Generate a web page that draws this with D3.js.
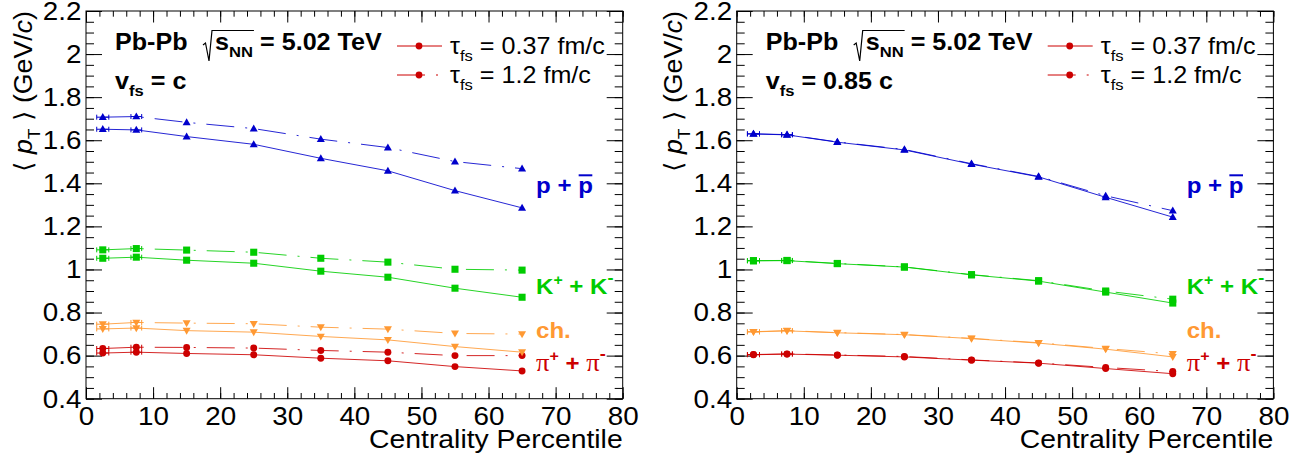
<!DOCTYPE html>
<html><head><meta charset="utf-8">
<script src="https://cdn.jsdelivr.net/npm/d3@7"></script>
<style>body{margin:0;background:#fff} svg{display:block} text{white-space:pre}</style>
</head><body><svg id="c" width="1312" height="461"></svg>
<script>
// ---------------- data ----------------
const centrality = [2.5, 7.5, 15, 25, 35, 45, 55, 65];
const centralityErr = [0.9, 0.8, 0, 0, 0, 0, 0, 0];

// panel 1: v_fs = c
const pion_c_tau037    = [0.612, 0.616, 0.610, 0.604, 0.588, 0.576, 0.549, 0.529];
const pion_c_tau12     = [0.633, 0.639, 0.638, 0.635, 0.624, 0.616, 0.600, 0.600];
const charged_c_tau037 = [0.724, 0.728, 0.716, 0.709, 0.689, 0.673, 0.642, 0.616];
const charged_c_tau12  = [0.746, 0.754, 0.751, 0.748, 0.732, 0.723, 0.703, 0.700];
const kaon_c_tau037    = [1.052, 1.057, 1.043, 1.029, 0.992, 0.964, 0.913, 0.871];
const kaon_c_tau12     = [1.091, 1.097, 1.090, 1.080, 1.052, 1.034, 1.001, 0.997];
const proton_c_tau037  = [1.651, 1.648, 1.617, 1.581, 1.516, 1.458, 1.366, 1.286];
const proton_c_tau12   = [1.707, 1.710, 1.683, 1.654, 1.605, 1.566, 1.501, 1.468];

// panel 2: v_fs = 0.85 c
const pion_085_tau037    = [0.604, 0.607, 0.602, 0.594, 0.579, 0.565, 0.540, 0.516];
const pion_085_tau12     = [0.605, 0.608, 0.603, 0.596, 0.580, 0.566, 0.545, 0.526];
const charged_085_tau037 = [0.710, 0.715, 0.706, 0.697, 0.679, 0.658, 0.630, 0.594];
const charged_085_tau12  = [0.711, 0.716, 0.707, 0.698, 0.680, 0.660, 0.633, 0.608];
const kaon_085_tau037    = [1.040, 1.041, 1.027, 1.011, 0.975, 0.946, 0.895, 0.844];
const kaon_085_tau12     = [1.041, 1.042, 1.028, 1.012, 0.976, 0.948, 0.900, 0.862];
const proton_085_tau037  = [1.629, 1.625, 1.591, 1.555, 1.489, 1.430, 1.335, 1.243];
const proton_085_tau12   = [1.630, 1.626, 1.592, 1.557, 1.491, 1.432, 1.342, 1.273];

const xTicks = [0, 10, 20, 30, 40, 50, 60, 70, 80];
const xTickLabels = ["0", "10", "20", "30", "40", "50", "60", "70", "80"];
const yTicks = [0.4, 0.6, 0.8, 1.0, 1.2, 1.4, 1.6, 1.8, 2.0, 2.2];
const yTickLabels = ["0.4", "0.6", "0.8", "1", "1.2", "1.4", "1.6", "1.8", "2", "2.2"];
const tauLabels = ["0.37 fm/c", "1.2 fm/c"];
const vfsLabels = ["c", "0.85 c"];
const xTitle = "Centrality Percentile";

// ---------------- styles / layout ----------------
const SX = 1.07;
const FONT = "'Liberation Sans', Arial, Helvetica, sans-serif";
const BLUE = "#0000cc", GREEN = "#00cc00", ORANGE = "#ff9933", RED = "#cc0000";
const DASHDOT = "28,11,2,11";
const TOP = 11, BOTTOM = 398.7, PW = 536.7;
const panelLefts = [86, 736.7];

const svg = d3.select("#c");

function rich(sel, x, y, parts, o) {
  const g = sel.append("g").attr("transform", `translate(${x},${y})${o.rotate ? " rotate(" + o.rotate + ")" : ""} scale(${o.sx || SX},1)`);
  const t = g.append("text")
    .attr("font-family", o.family || FONT).attr("font-size", o.size)
    .attr("font-weight", o.weight || "normal").attr("fill", o.fill || "#000")
    .attr("text-anchor", o.anchor || "start");
  let cur = 0;
  parts.forEach(p => {
    if (typeof p === "string") p = { t: p };
    const fs = p.size || ((p.sub || p.sup) ? o.size * 0.66 : o.size);
    const off = p.sub ? o.size * (p.subOff || 0.3) : p.sup ? -o.size * (p.supOff || 0.42) : 0;
    const ts = t.append("tspan").text(p.t).attr("font-size", fs).attr("dy", off - cur);
    if (p.dx) ts.attr("dx", p.dx);
    if (p.italic) ts.attr("font-style", "italic");
    if (p.weight) ts.attr("font-weight", p.weight);
    if (p.family) ts.attr("font-family", p.family);
    if (p.fill) ts.attr("fill", p.fill);
    cur = off;
  });
  return { g, t };
}

const species = [
  { key: "pion", color: RED, sym: d3.symbolCircle, size: 38, rot: 0 },
  { key: "charged", color: ORANGE, sym: d3.symbolTriangle, size: 28, rot: 180 },
  { key: "kaon", color: GREEN, sym: d3.symbolSquare, size: 50, rot: 0 },
  { key: "proton", color: BLUE, sym: d3.symbolTriangle, size: 28, rot: 0 }
];

const panels = [
  { pion: [pion_c_tau037, pion_c_tau12], charged: [charged_c_tau037, charged_c_tau12],
    kaon: [kaon_c_tau037, kaon_c_tau12], proton: [proton_c_tau037, proton_c_tau12] },
  { pion: [pion_085_tau037, pion_085_tau12], charged: [charged_085_tau037, charged_085_tau12],
    kaon: [kaon_085_tau037, kaon_085_tau12], proton: [proton_085_tau037, proton_085_tau12] }
];

function stretchLabels(axisG) {
  axisG.selectAll(".tick text").each(function () {
    const s = d3.select(this);
    const x = +s.attr("x") || 0, y = +s.attr("y") || 0;
    s.attr("transform", `translate(${x},${y}) scale(${SX},1)`).attr("x", 0).attr("y", 0);
  });
}

panels.forEach((pd, pi) => {
  const L = panelLefts[pi], R = L + PW;
  const x = d3.scaleLinear().domain([0, 80]).range([L, R]);
  const y = d3.scaleLinear().domain([0.4, 2.2]).range([BOTTOM, TOP]);
  const g = svg.append("g");

  // axes
  const minorX = d3.range(0, 80.001, 2), minorY = d3.range(0.4, 2.2001, 0.05);
  const styleAxis = a => { a.select(".domain").remove(); a.selectAll("line").attr("stroke", "#000").attr("stroke-width", 1); };
  const ax = g.append("g").attr("transform", `translate(0,${BOTTOM})`)
    .call(d3.axisBottom(x).tickValues(xTicks).tickSize(-11.5).tickPadding(8).tickFormat((d, i) => xTickLabels[i]));
  g.append("g").attr("transform", `translate(0,${BOTTOM})`).call(d3.axisBottom(x).tickValues(minorX).tickSize(-5.7).tickFormat("")).call(styleAxis);
  g.append("g").attr("transform", `translate(0,${TOP})`).call(d3.axisTop(x).tickValues(xTicks).tickSize(-11.5).tickFormat("")).call(styleAxis);
  g.append("g").attr("transform", `translate(0,${TOP})`).call(d3.axisTop(x).tickValues(minorX).tickSize(-5.7).tickFormat("")).call(styleAxis);
  const ay = g.append("g").attr("transform", `translate(${L},0)`)
    .call(d3.axisLeft(y).tickValues(yTicks).tickSize(-16).tickPadding(4.5).tickFormat((d, i) => yTickLabels[i]));
  g.append("g").attr("transform", `translate(${L},0)`).call(d3.axisLeft(y).tickValues(minorY).tickSize(-8).tickFormat("")).call(styleAxis);
  g.append("g").attr("transform", `translate(${R},0)`).call(d3.axisRight(y).tickValues(yTicks).tickSize(-16).tickFormat("")).call(styleAxis);
  g.append("g").attr("transform", `translate(${R},0)`).call(d3.axisRight(y).tickValues(minorY).tickSize(-8).tickFormat("")).call(styleAxis);
  [ax, ay].forEach(a => {
    styleAxis(a);
    a.selectAll("text").attr("font-family", FONT).attr("font-size", 26).attr("fill", "#000");
    stretchLabels(a);
  });
  g.append("rect").attr("x", L).attr("y", TOP).attr("width", PW).attr("height", BOTTOM - TOP)
    .attr("fill", "none").attr("stroke", "#000").attr("stroke-width", 1);

  // data
  const line = d3.line().x(d => x(d[0])).y(d => y(d[1]));
  species.forEach(sp => {
    pd[sp.key].forEach((vals, ti) => {
      const pts = centrality.map((c, i) => [c, vals[i], centralityErr[i]]);
      g.append("path").attr("d", line(pts)).attr("fill", "none").attr("stroke", sp.color)
        .attr("stroke-width", 1).attr("stroke-opacity", 0.85)
        .attr("stroke-dasharray", ti === 1 ? DASHDOT : null);
      pts.filter(p => p[2] > 0).forEach(p => {
        const yy = y(p[1]);
        g.append("line").attr("x1", x(p[0] - p[2])).attr("x2", x(p[0] + p[2])).attr("y1", yy).attr("y2", yy).attr("stroke", sp.color);
        [p[0] - p[2], p[0] + p[2]].forEach(e => g.append("line").attr("x1", x(e)).attr("x2", x(e)).attr("y1", yy - 2.5).attr("y2", yy + 2.5).attr("stroke", sp.color));
      });
      g.selectAll(null).data(pts).enter().append("path")
        .attr("d", d3.symbol().type(sp.sym).size(sp.size))
        .attr("transform", d => `translate(${x(d[0])},${y(d[1]) + (sp.sym === d3.symbolTriangle ? (sp.rot ? -0.5 : 0.5) : 0)}) rotate(${sp.rot})`)
        .attr("fill", sp.color);
    });
  });

  // header: Pb-Pb sqrt(s_NN) = 5.02 TeV
  rich(g, L + 29, 49.5, ["Pb-Pb"], { size: 23.5, weight: "bold" });
  const sq = rich(g, L + 129, 49.5, [{ t: "s" }, { t: "NN", sub: true, subOff: 0.32 }], { size: 23.5, weight: "bold" });
  const sw = sq.t.node().getComputedTextLength() * SX;
  g.append("path").attr("d", `M${L + 117},${45} L${L + 119.5},${43} L${L + 123},${61} L${L + 126},${30.5} L${L + 129 + sw + 1},${30.5}`)
    .attr("fill", "none").attr("stroke", "#000").attr("stroke-width", 1.2);
  rich(g, L + 174, 49.5, ["= 5.02 TeV"], { size: 23.5, weight: "bold" });
  rich(g, L + 29, 88.5, ["v", { t: "fs", sub: true, subOff: 0.32 }, { t: " = " + vfsLabels[pi] }], { size: 23.5, weight: "bold" });

  // legend
  tauLabels.forEach((lab, i) => {
    const ly = 46 + i * 29;
    g.append("line").attr("x1", L + 311).attr("x2", L + 356).attr("y1", ly).attr("y2", ly)
      .attr("stroke", RED).attr("stroke-width", 1).attr("stroke-dasharray", i === 1 ? DASHDOT : null);
    g.append("circle").attr("cx", L + 333).attr("cy", ly).attr("r", 3.4).attr("fill", RED);
    rich(g, L + 364, ly + 7.5, [{ t: "\u03C4" }, { t: "fs", sub: true, subOff: 0.3 }, { t: " = " + lab }], { size: 23.5 });
  });

  // species labels
  const pl = rich(g, L + 450, 193.3, ["p + p"], { size: 22.5, weight: "bold", fill: BLUE });
  {
    const n = pl.t.node();
    const e = n.getExtentOfChar(4);
    pl.g.append("line").attr("x1", e.x + 0.5).attr("x2", e.x + e.width - 0.5).attr("y1", -18).attr("y2", -18)
      .attr("stroke", BLUE).attr("stroke-width", 2);
  }
  rich(g, L + 450, 294, ["K", { t: "+", sup: true }, " + K", { t: "-", sup: true, size: 17, supOff: 0.5 }], { size: 22.5, weight: "bold", fill: GREEN });
  rich(g, L + 450, 338, ["ch."], { size: 22.5, weight: "bold", fill: ORANGE });
  rich(g, L + 450, 370.5, [{ t: "\u03C0", family: "'Liberation Serif', 'DejaVu Serif', serif", weight: "normal", size: 25 },
    { t: "+", sup: true, size: 15 }, " + ",
    { t: "\u03C0", family: "'Liberation Serif', 'DejaVu Serif', serif", weight: "normal", size: 25 },
    { t: "-", sup: true, size: 17, supOff: 0.5 }], { size: 22.5, weight: "bold", fill: RED });

  // axis titles
  rich(g, R, 448, [xTitle], { size: 26.5, anchor: "end" });
  rich(g, L - 54.5, TOP, [{ t: "\u27E8", family: "'DejaVu Sans', sans-serif", weight: "normal" }, { t: " " },
    { t: "p", italic: true }, { t: "T", sub: true, subOff: 0.32 }, { t: " " },
    { t: "\u27E9", family: "'DejaVu Sans', sans-serif" }, " (GeV/", { t: "c", italic: true }, ")"],
    { size: 25, anchor: "end", rotate: -90 });
});
</script>
</body></html>
